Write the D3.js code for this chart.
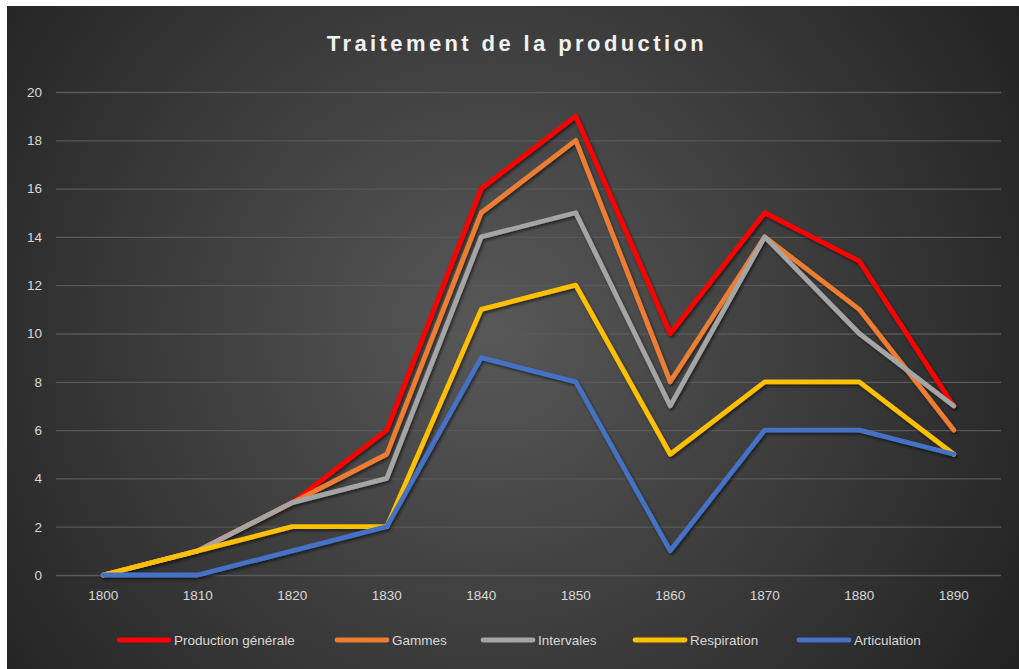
<!DOCTYPE html>
<html>
<head>
<meta charset="utf-8">
<script src="https://cdn.jsdelivr.net/npm/d3@7"></script>
<style>
  html, body { margin: 0; padding: 0; background: #fff; }
  svg { display: block; font-family: "Liberation Sans Narrow", "Liberation Sans", sans-serif; }
</style>
</head>
<body>
<svg id="chart" width="1019" height="669"></svg>
<script>
const years = ["1800", "1810", "1820", "1830", "1840", "1850", "1860", "1870", "1880", "1890"];
const production = [0, 1, 3, 6, 16, 19, 10, 15, 13, 7];
const gammes = [0, 1, 3, 5, 15, 18, 8, 14, 11, 6];
const intervales = [0, 1, 3, 4, 14, 15, 7, 14, 10, 7];
const respiration = [0, 1, 2, 2, 11, 12, 5, 8, 8, 5];
const articulation = [0, 0, 1, 2, 9, 8, 1, 6, 6, 5];
const yTicks = [0, 2, 4, 6, 8, 10, 12, 14, 16, 18, 20];

const series = [
  { name: "Production générale", values: production, color: "#ff0000" },
  { name: "Gammes", values: gammes, color: "#ed7d31" },
  { name: "Intervales", values: intervales, color: "#a5a5a5" },
  { name: "Respiration", values: respiration, color: "#ffc000" },
  { name: "Articulation", values: articulation, color: "#4472c4" }
];

const svg = d3.select("#chart");
const defs = svg.append("defs");

const grad = defs.append("radialGradient")
  .attr("id", "bg")
  .attr("gradientUnits", "userSpaceOnUse")
  .attr("cx", 490).attr("cy", 330).attr("r", 620);
grad.append("stop").attr("offset", "0%").attr("stop-color", "#585858");
grad.append("stop").attr("offset", "100%").attr("stop-color", "#222222");

const shadow = defs.append("filter").attr("id", "shadow")
  .attr("x", "-10%").attr("y", "-10%").attr("width", "120%").attr("height", "120%");
shadow.append("feDropShadow")
  .attr("dx", 1.5).attr("dy", 2).attr("stdDeviation", 1.5)
  .attr("flood-color", "#000").attr("flood-opacity", 0.55);

svg.append("rect")
  .attr("x", 7).attr("y", 6)
  .attr("width", 1012).attr("height", 663)
  .attr("fill", "url(#bg)");

const x = d3.scaleBand().domain(years).range([56, 1001]);
const y = d3.scaleLinear().domain([0, 20]).range([575, 92]);

// gridlines + y labels
const yAxis = svg.append("g")
  .attr("transform", "translate(56,0)")
  .call(d3.axisLeft(y).tickValues(yTicks).tickSize(-945).tickPadding(14));
yAxis.select(".domain").remove();
yAxis.selectAll(".tick line").attr("stroke", "#595959").attr("stroke-width", 1.3);
yAxis.selectAll(".tick text")
  .attr("fill", "#d9d9d9").attr("font-size", 13.5);

const xAxis = svg.append("g")
  .attr("transform", "translate(0,575)")
  .call(d3.axisBottom(x).tickSize(0).tickPadding(15));
xAxis.select(".domain").remove();
xAxis.selectAll(".tick text")
  .attr("fill", "#d9d9d9").attr("font-size", 13.5);

const line = d3.line()
  .x((d, i) => x(years[i]) + x.bandwidth() / 2)
  .y(d => y(d));

svg.append("g")
  .attr("filter", "url(#shadow)")
  .selectAll("path")
  .data(series)
  .join("path")
  .attr("d", d => line(d.values))
  .attr("fill", "none")
  .attr("stroke", d => d.color)
  .attr("stroke-width", 4.8)
  .attr("stroke-linejoin", "round")
  .attr("stroke-linecap", "round");

svg.append("text")
  .attr("x", 517).attr("y", 51)
  .attr("text-anchor", "middle")
  .attr("fill", "#f2f2f2")
  .attr("font-size", 22)
  .attr("font-weight", "bold")
  .attr("letter-spacing", 3.4)
  .text("Traitement de la production");

// legend: swatch start x for each entry
const legendX = [117, 335, 481, 633, 797];
const legend = svg.append("g").selectAll("g")
  .data(series)
  .join("g")
  .attr("transform", (d, i) => `translate(${legendX[i]},640)`);
legend.append("line")
  .attr("x1", 2).attr("x2", 52)
  .attr("stroke", d => d.color)
  .attr("stroke-width", 4.8)
  .attr("stroke-linecap", "round");
legend.append("text")
  .attr("x", 57).attr("dy", "0.35em")
  .attr("fill", "#d9d9d9").attr("font-size", 13.5)
  .text(d => d.name);
</script>
</body>
</html>
